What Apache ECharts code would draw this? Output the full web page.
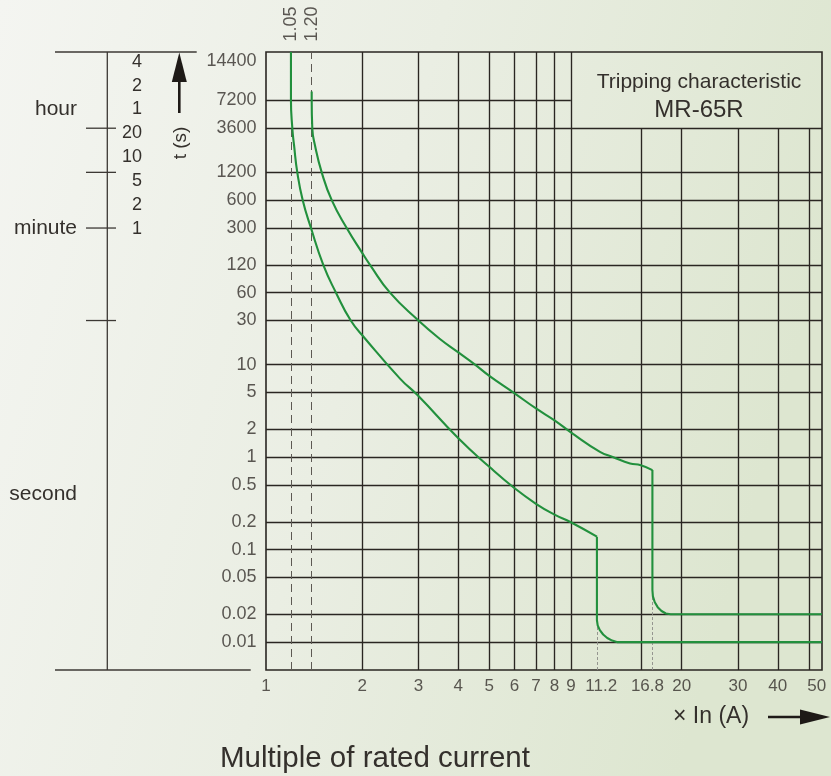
<!DOCTYPE html>
<html>
<head>
<meta charset="utf-8">
<script src="https://cdn.jsdelivr.net/npm/echarts@6/dist/echarts.min.js"></script>
<style>html,body{margin:0;padding:0;background:#eef1ea;}#c{width:831px;height:776px;}</style>
</head>
<body>
<div id="c"></div>
<script>
// ---------- data ----------
const xMin = 1, xMax = 55;
const yMin = 0.005;
const yTop = 24000;          // top edge of the plot (the reference prints "14400" there)
const boxLeftX = 9, boxBottomY = 3600;   // edges of the title box

const xGridFull  = [2, 3, 4, 5, 6, 7, 8, 9];
const xGridLower = [15, 20, 30, 40, 50];
const yGridFull  = [3600, 1200, 600, 300, 120, 60, 30, 10, 5, 2, 1, 0.5, 0.2, 0.1, 0.05, 0.02, 0.01];
const yGridLeft  = [7200];

const xTickValues = [1, 2, 3, 4, 5, 6, 7, 8, 9, 11.2, 16.8, 20, 30, 40, 50];
const xTickLabels = ['1','2','3','4','5','6','7','8','9','11.2','16.8','20','30','40','50'];
const yTickValues = [yTop, 7200, 3600, 1200, 600, 300, 120, 60, 30, 10, 5, 2, 1, 0.5, 0.2, 0.1, 0.05, 0.02, 0.01];
const yTickLabels = ['14400','7200','3600','1200','600','300','120','60','30','10','5','2','1','0.5','0.2','0.1','0.05','0.02','0.01'];

const refLineX      = [1.197, 1.39];
const refLineLabels = ['1.05', '1.20'];
const instX   = [10.86, 16.2];
const instTop = [0.0173, 0.0366];

// lower curve (starts on the "1.05" line), then the instantaneous step at ~11.2 In
const lowerCurve = [[1.197, yTop], [1.197, 7200], [1.209, 3600], [1.224, 2356], [1.253, 1200], [1.303, 600],
  [1.383, 300], [1.511, 120], [1.656, 60], [1.842, 30], [2.041, 19.2], [2.627, 7.07], [2.985, 4.66],
  [4, 1.6], [5, 0.786], [6, 0.461], [7, 0.3135], [8, 0.239], [9, 0.198], [10.86, 0.138]];
const lowerTail = [[10.86, 0.138], [10.86, 0.0173], [10.92, 0.0152], [11.09, 0.0135], [11.36, 0.0121],
  [11.7, 0.0111], [12.12, 0.0104], [12.6, 0.01], [55, 0.01]];
// upper curve (starts on the "1.20" line), then the instantaneous step at ~16.8 In
const upperCurve = [[1.39, 9000], [1.39, 7200], [1.396, 3600], [1.423, 2356], [1.494, 1200], [1.606, 600],
  [1.789, 300], [2, 161.6], [2.116, 120], [2.444, 60], [3, 30], [3.487, 19.2], [4, 13.56], [4.511, 10],
  [5, 7.56], [6, 4.9], [7, 3.362], [8, 2.5], [9, 1.855], [11.1, 1.142], [12.22, 1.0], [13.79, 0.856],
  [14.9, 0.82], [16.2, 0.725]];
const upperTail = [[16.2, 0.725], [16.2, 0.0366], [16.26, 0.0313], [16.48, 0.027], [16.83, 0.0239],
  [17.3, 0.0217], [17.85, 0.0204], [18.48, 0.02], [55, 0.02]];

const leftScaleNumbers = ['4', '2', '1', '20', '10', '5', '2', '1'];
const leftScaleTicks   = [3600, 1200, 300, 30];
const leftScaleUnits   = ['hour', 'minute', 'second'];

// ---------- styling ----------
const FONT = '"Liberation Sans", Arial, sans-serif';
const TXT = '#34302c';
const GRIDC = '#2a2622';
const GREEN = '#22903d';
const xLabelNudge = {'16.8': -10, '50': 8};

const gridSegs = [];
xGridFull.forEach(v => gridSegs.push({coords: [[v, yMin], [v, yTop]]}));
xGridLower.forEach(v => gridSegs.push({coords: [[v, yMin], [v, boxBottomY]]}));
yGridFull.forEach(v => gridSegs.push({coords: [[xMin, v], [xMax, v]]}));
yGridLeft.forEach(v => gridSegs.push({coords: [[xMin, v], [boxLeftX, v]]}));

const curveStyle = {color: GREEN, width: 2.1};
const hiddenSym = {symbolSize: 1, itemStyle: {color: 'transparent'}, silent: true, clip: false, z: 10};

const chart = echarts.init(document.getElementById('c'), null, {renderer: 'canvas'});
const option = {
  animation: false,
  backgroundColor: new echarts.graphic.LinearGradient(0, 0, 1, 0.3, [
    {offset: 0, color: '#f4f5f1'}, {offset: 0.5, color: '#eaeee3'}, {offset: 1, color: '#dde6d0'}
  ]),
  title: [
    {text: 'Tripping characteristic', left: 694, top: 67, textAlign: 'center',
     textStyle: {fontSize: 21, fontWeight: 'normal', color: TXT, fontFamily: FONT}},
    {text: 'MR-65R', left: 694, top: 93, textAlign: 'center',
     textStyle: {fontSize: 24, fontWeight: 'normal', color: TXT, fontFamily: FONT}}
  ],
  grid: {left: 266, right: 9, top: 52, bottom: 106, show: true, borderColor: GRIDC, borderWidth: 1.6,
         backgroundColor: 'transparent'},
  xAxis: {type: 'log', logBase: 10, min: xMin, max: xMax,
          axisLine: {show: false}, axisTick: {show: false}, axisLabel: {show: false}, splitLine: {show: false}},
  yAxis: {type: 'log', logBase: 10, min: yMin, max: yTop,
          axisLine: {show: false}, axisTick: {show: false}, axisLabel: {show: false}, splitLine: {show: false}},
  series: [
    {type: 'lines', coordinateSystem: 'cartesian2d', data: gridSegs, silent: true, z: 1,
     lineStyle: {color: GRIDC, width: 1.35, opacity: 1}},
    {type: 'lines', coordinateSystem: 'cartesian2d', silent: true, z: 2,
     data: refLineX.map(x => ({coords: [[x, yMin], [x, yTop]]})),
     lineStyle: {color: '#5d5953', width: 1, type: [8, 5], opacity: 1}},
    {type: 'lines', coordinateSystem: 'cartesian2d', silent: true, z: 2,
     data: instX.map((x, i) => ({coords: [[x, yMin], [x, instTop[i]]]})),
     lineStyle: {color: '#8c8c88', width: 0.9, type: [3, 2], opacity: 1}},
    {type: 'line', data: lowerCurve, smooth: 0.5, showSymbol: false, symbol: 'none', lineStyle: curveStyle, z: 5, silent: true},
    {type: 'line', data: lowerTail, smooth: false, showSymbol: false, symbol: 'none', lineStyle: curveStyle, z: 5, silent: true},
    {type: 'line', data: upperCurve, smooth: 0.5, showSymbol: false, symbol: 'none', lineStyle: curveStyle, z: 5, silent: true},
    {type: 'line', data: upperTail, smooth: false, showSymbol: false, symbol: 'none', lineStyle: curveStyle, z: 5, silent: true},
    Object.assign({type: 'scatter',
      data: xTickValues.map((v, i) => ({value: [v, yMin], label: {offset: [xLabelNudge[xTickLabels[i]] || 0, 0]}})),
      label: {show: true, position: 'bottom', distance: 7, formatter: p => xTickLabels[p.dataIndex],
              color: TXT, fontSize: 17, fontFamily: FONT}}, hiddenSym),
    Object.assign({type: 'scatter',
      data: yTickValues.map((v, i) => ({value: [xMin, v], label: {offset: [0, i === 0 ? 9 : 0]}})),
      label: {show: true, position: 'left', distance: 9, formatter: p => yTickLabels[p.dataIndex],
              color: TXT, fontSize: 18, fontFamily: FONT}}, hiddenSym),
    Object.assign({type: 'scatter',
      data: refLineX.map(x => [x, yTop]),
      label: {show: true, position: 'top', distance: 10, rotate: 90, align: 'left', verticalAlign: 'middle',
              formatter: p => refLineLabels[p.dataIndex], color: TXT, fontSize: 18, fontFamily: FONT}}, hiddenSym)
  ]
};
chart.setOption(option);

// ---------- decorations positioned through the y scale ----------
const yp = v => chart.convertToPixel({yAxisIndex: 0}, v);
const stroke = {stroke: '#3c3834', lineWidth: 1.3};
const g = [];
const yT = yp(yTop), yB = yp(yMin);
g.push({type: 'line', shape: {x1: 107.3, y1: yT, x2: 107.3, y2: yB}, style: stroke, silent: true});
g.push({type: 'line', shape: {x1: 55, y1: yT, x2: 196.7, y2: yT}, style: stroke, silent: true});
g.push({type: 'line', shape: {x1: 55, y1: yB, x2: 250.7, y2: yB}, style: stroke, silent: true});
leftScaleTicks.forEach(v => {
  const y = yp(v);
  g.push({type: 'line', shape: {x1: 86, y1: y, x2: 116, y2: y}, style: stroke, silent: true});
});
const rowY = i => yT + 9.7 + i * 23.9;
leftScaleNumbers.forEach((t, i) => {
  g.push({type: 'text', x: 142, y: rowY(i), silent: true,
          style: {text: t, fill: TXT, font: '18px ' + FONT, align: 'right', verticalAlign: 'middle'}});
});
const unitY = [rowY(2), yp(300), yp(0.4)];
leftScaleUnits.forEach((t, i) => {
  g.push({type: 'text', x: 77, y: unitY[i], silent: true,
          style: {text: t, fill: TXT, font: '21px ' + FONT, align: 'right', verticalAlign: 'middle'}});
});
// time arrow and label
g.push({type: 'line', shape: {x1: 179.3, y1: 113, x2: 179.3, y2: 78}, style: {stroke: '#1e1a17', lineWidth: 2.6}, silent: true});
g.push({type: 'polygon', shape: {points: [[171.8, 82], [186.8, 82], [179.3, yT + 0.5]]}, style: {fill: '#1e1a17'}, silent: true});
g.push({type: 'text', x: 181, y: 143, rotation: Math.PI / 2, silent: true,
        style: {text: 't (s)', fill: TXT, font: '19px ' + FONT, align: 'center', verticalAlign: 'middle'}});
// current axis caption
g.push({type: 'text', x: 673, y: 717, silent: true,
        style: {text: '\u00d7 In (A)', fill: TXT, font: '23px ' + FONT, align: 'left', verticalAlign: 'middle'}});
g.push({type: 'line', shape: {x1: 768, y1: 717, x2: 805, y2: 717}, style: {stroke: '#1e1a17', lineWidth: 2.6}, silent: true});
g.push({type: 'polygon', shape: {points: [[800, 709.5], [830, 717], [800, 724.5]]}, style: {fill: '#1e1a17'}, silent: true});
g.push({type: 'text', x: 220, y: 759, silent: true,
        style: {text: 'Multiple of rated current', fill: TXT, font: '29.5px ' + FONT, align: 'left', verticalAlign: 'middle'}});

chart.setOption({graphic: g});
</script>
</body>
</html>
